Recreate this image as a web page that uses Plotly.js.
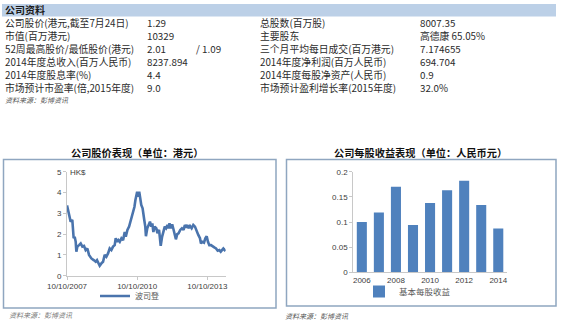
<!DOCTYPE html>
<html>
<head>
<meta charset="utf-8">
<script src="https://cdn.plot.ly/plotly-3.0.1.min.js"></script>
<style>
html,body{margin:0;padding:0;background:#fff;}
#chart{width:561px;height:323px;}
</style>
</head>
<body>
<div id="chart"></div>
<script>
// ---- Table data ----
var tableTitle = "公司资料";
var leftLabels = ["公司股价(港元,截至7月24日)", "市值(百万港元)", "52周最高股价/最低股价(港元)", "2014年度总收入(百万人民币)", "2014年度股息率(%)", "市场预计市盈率(倍,2015年度)"];
var leftValues = ["1.29", "10329", "2.01", "8237.894", "4.4", "9.0"];
var leftExtra = ["", "", "/ 1.09", "", "", ""];
var rightLabels = ["总股数(百万股)", "主要股东", "三个月平均每日成交(百万港元)", "2014年度净利润(百万人民币)", "2014年度每股净资产(人民币)", "市场预计盈利增长率(2015年度)"];
var rightValues = ["8007.35", "高德康 65.05%", "7.174655", "694.704", "0.9", "32.0%"];
var sourceNote = "资料来源：彭博资讯";

// ---- Stock price chart data ----
var priceTitle = "公司股价表现（单位：港元）";
var priceName = "波司登";
var priceDates = ["2007-10-10","2007-10-26","2007-11-21","2007-12-06","2008-01-01","2008-01-12","2008-01-22","2008-02-07","2008-02-23","2008-03-04","2008-03-20","2008-04-15","2008-05-11","2008-06-06","2008-07-02","2008-07-28","2008-08-23","2008-09-18","2008-10-25","2008-11-30","2008-12-31","2009-01-21","2009-02-11","2009-03-04","2009-03-30","2009-04-25","2009-05-21","2009-06-16","2009-07-12","2009-08-07","2009-09-02","2009-09-28","2009-10-24","2009-11-09","2009-11-30","2009-12-21","2010-01-11","2010-02-06","2010-03-04","2010-03-30","2010-04-15","2010-05-11","2010-06-06","2010-06-27","2010-07-17","2010-08-07","2010-08-28","2010-09-13","2010-10-10","2010-10-26","2010-11-11","2010-11-27","2010-12-13","2011-01-03","2011-01-13","2011-01-29","2011-02-14","2011-02-24","2011-03-17","2011-04-12","2011-04-28","2011-05-19","2011-06-04","2011-06-20","2011-07-11","2011-08-06","2011-08-22","2011-09-17","2011-10-03","2011-10-13","2011-11-03","2011-11-24","2011-12-15","2012-01-05","2012-01-26","2012-02-11","2012-02-27","2012-03-19","2012-04-09","2012-04-25","2012-05-16","2012-06-06","2012-06-27","2012-07-18","2012-08-13","2012-09-08","2012-10-04","2012-10-24","2012-11-14","2012-12-05","2012-12-17","2013-01-12","2013-02-07","2013-03-05","2013-03-31","2013-04-26","2013-05-22","2013-06-17","2013-07-03","2013-07-24","2013-08-19","2013-09-09","2013-09-30","2013-10-20","2013-11-10","2013-12-06","2014-01-01","2014-01-27","2014-02-23","2014-03-21","2014-04-16","2014-05-07","2014-05-27","2014-06-17","2014-07-08","2014-07-24"];
var priceValues = [3.38,3.16,2.84,2.60,2.68,2.20,1.80,1.87,1.63,1.15,1.40,1.47,1.55,1.40,1.43,1.23,1.31,1.00,0.83,0.75,0.67,0.75,0.59,0.48,0.59,0.67,1.00,0.91,1.07,1.31,1.23,1.40,1.47,1.80,1.63,1.71,1.63,1.80,1.71,2.10,1.87,2.20,2.36,2.60,2.76,3.08,3.30,3.64,4.04,3.80,4.04,3.72,3.40,3.24,2.92,2.68,2.36,1.90,2.28,2.44,2.60,2.36,2.52,2.10,2.36,2.28,2.04,2.20,1.87,1.44,1.87,2.20,2.36,2.28,2.44,2.28,2.52,2.28,2.47,2.28,1.96,1.75,2.00,2.04,2.20,2.28,2.20,2.44,2.31,2.44,2.28,2.39,2.28,2.44,2.36,2.10,1.96,1.80,1.55,1.63,1.59,1.80,1.90,1.63,1.47,1.47,1.40,1.36,1.31,1.20,1.23,1.15,1.23,1.31,1.23,1.27];
var priceTickVals = ["2007-10-10","2010-10-10","2013-10-10"];
var priceTickText = ["10/10/2007","10/10/2010","10/10/2013"];
var priceUnit = "HK$";

// ---- EPS chart data ----
var epsTitle = "公司每股收益表现（单位：人民币元）";
var epsName = "基本每股收益";
var epsYears = [2006, 2007, 2008, 2009, 2010, 2011, 2012, 2013, 2014];
var epsValues = [0.100, 0.119, 0.170, 0.094, 0.138, 0.163, 0.182, 0.134, 0.087];
var epsTickVals = [2006, 2008, 2010, 2012, 2014];

// ---- helpers (pixel -> paper) ----
var W = 561, H = 323;
function px(x){ return x / W; }
function py(y){ return 1 - y / H; }

var CJK = "'Noto Sans CJK SC', 'Noto Sans', sans-serif";
var LAT = "'Liberation Sans', 'DejaVu Sans', sans-serif";
var textCol = "#2b2b2b";

var annotations = [];
var shapes = [];
function note(text, x, y, anchor, font){
  annotations.push({text:text, xref:"paper", yref:"paper", x:x, y:y, xanchor:anchor, yanchor:"middle",
                    showarrow:false, borderpad:0, font:font});
}

// header band
shapes.push({type:"rect", xref:"paper", yref:"paper", x0:px(2), x1:px(556), y0:py(16.5), y1:py(4), fillcolor:"#bcd0e7", line:{width:0}, layer:"below"});
note("<b>"+tableTitle+"</b>", px(4), py(9.8), "left", {family:CJK, size:10, color:"#1a1a1a"});

var rowY0 = 22.9, rowStep = 13.1;
for (var i = 0; i < leftLabels.length; i++) {
  var y = py(rowY0 + rowStep * i);
  var f = {family:CJK, size:9.8, color:textCol};
  note(leftLabels[i], px(4), y, "left", f);
  note(leftValues[i], px(146), y, "left", f);
  if (leftExtra[i]) note(leftExtra[i], px(195), y, "left", f);
  note(rightLabels[i], px(259), y, "left", f);
  note(rightValues[i], px(419), y, "left", f);
}
note("<i>"+sourceNote+"</i>", px(4), py(99.5), "left", {family:CJK, size:7, color:"#555"});

// chart titles
note("<b>"+priceTitle+"</b>", px(137), py(153), "center", {family:CJK, size:10.2, color:"#111"});
note("<b>"+epsTitle+"</b>", px(420), py(153), "center", {family:CJK, size:10.2, color:"#111"});

// chart borders
shapes.push({type:"rect", xref:"paper", yref:"paper", x0:px(3.5), x1:px(276), y0:py(308), y1:py(159.5), line:{color:"#8fa6c0", width:1.5}});
shapes.push({type:"rect", xref:"paper", yref:"paper", x0:px(286.5), x1:px(556), y0:py(306), y1:py(159.5), line:{color:"#8fa6c0", width:1.5}});

// unit label
note(priceUnit, px(69), py(172.5), "left", {family:LAT, size:8, color:"#404040"});

// bottom source notes
note("<i>"+sourceNote+"</i>", px(8), py(314.5), "left", {family:CJK, size:7, color:"#777"});
note("<i>"+sourceNote+"</i>", px(284), py(315.5), "left", {family:CJK, size:7, color:"#555"});

var tickFont = {family:LAT, size:8, color:"#404040"};

var traces = [
  {type:"scatter", mode:"lines", x:priceDates, y:priceValues, name:priceName, xaxis:"x", yaxis:"y",
   line:{color:"#4a74ad", width:2.6}, legend:"legend", hoverinfo:"x+y"},
  {type:"bar", x:epsYears, y:epsValues, name:epsName, xaxis:"x2", yaxis:"y2",
   marker:{color:"#4f81bd", line:{width:0}}, legend:"legend2"}
];

var layout = {
  width:W, height:H,
  margin:{l:0, r:0, t:0, b:0},
  paper_bgcolor:"#ffffff", plot_bgcolor:"rgba(0,0,0,0)",
  showlegend:true,
  bargap:0.41,
  xaxis:{type:"date", domain:[px(67), px(225.7)], range:["2007-10-10","2014-07-24"], anchor:"y",
         tickvals:priceTickVals, ticktext:priceTickText, tickangle:0,
         showline:true, linecolor:"#c8c8c8", linewidth:1, ticks:"outside", ticklen:3, tickcolor:"#c8c8c8",
         showgrid:false, zeroline:false, tickfont:tickFont, fixedrange:true},
  yaxis:{domain:[py(275.7), py(171.7)], range:[0,5], dtick:1, anchor:"x",
         showline:true, linecolor:"#c8c8c8", linewidth:1, ticks:"outside", ticklen:3, tickcolor:"#c8c8c8",
         showgrid:false, zeroline:false, tickfont:tickFont, fixedrange:true},
  xaxis2:{domain:[px(353.3), px(506.8)], range:[2005.5, 2014.5], anchor:"y2",
          tickvals:epsTickVals, tickangle:0,
          showline:true, linecolor:"#c8c8c8", linewidth:1, ticks:"",
          showgrid:false, zeroline:false, tickfont:tickFont, fixedrange:true},
  yaxis2:{domain:[py(272.3), py(171.7)], range:[0,0.2], tickvals:[0,0.05,0.1,0.15,0.2], ticktext:["0","0.05","0.1","0.15","0.2"], anchor:"x2",
          showline:true, linecolor:"#c8c8c8", linewidth:1, ticks:"outside", ticklen:3, tickcolor:"#c8c8c8",
          showgrid:false, zeroline:false, tickfont:tickFont, fixedrange:true},
  legend:{x:px(95), y:py(296), xanchor:"left", yanchor:"middle", bgcolor:"rgba(0,0,0,0)",
          font:{family:CJK, size:8, color:"#595959"}, borderwidth:0, itemwidth:30, tracegroupgap:0},
  legend2:{x:px(359), y:py(291.5), xanchor:"left", yanchor:"middle", bgcolor:"rgba(0,0,0,0)",
          font:{family:CJK, size:8.5, color:"#595959"}, borderwidth:0, itemwidth:30, tracegroupgap:0},
  annotations:annotations,
  shapes:shapes
};

Plotly.newPlot("chart", traces, layout, {displayModeBar:false, staticPlot:true});
</script>
</body>
</html>
